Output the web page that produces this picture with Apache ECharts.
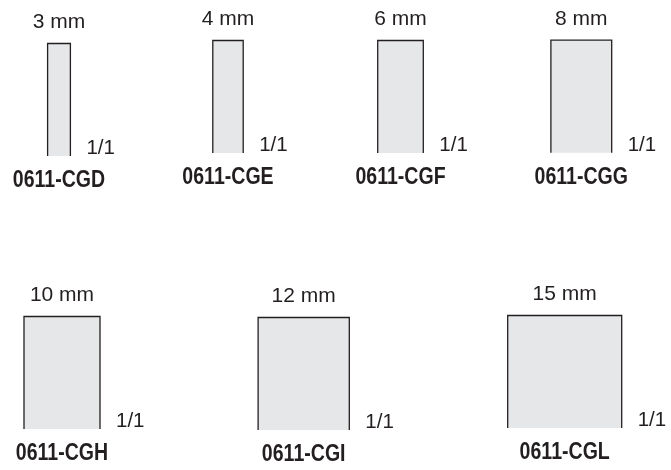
<!DOCTYPE html>
<html>
<head>
<meta charset="utf-8">
<script src="https://cdn.jsdelivr.net/npm/echarts@6/dist/echarts.min.js"></script>
<style>
html,body{margin:0;padding:0;background:#fff;}
#chart{width:671px;height:470px;}
</style>
</head>
<body>
<div id="chart"></div>
<script>
// ---- data ----
const codes = ['0611-CGD', '0611-CGE', '0611-CGF', '0611-CGG', '0611-CGH', '0611-CGI', '0611-CGL'];
const widthsMm = [3, 4, 6, 8, 10, 12, 15];
const sizeLabels = ['3 mm', '4 mm', '6 mm', '8 mm', '10 mm', '12 mm', '15 mm'];
const scaleLabels = ['1/1', '1/1', '1/1', '1/1', '1/1', '1/1', '1/1'];
const lengthMm = 14.8;

// ---- layout (pixel slot of each drawing: centre x, baseline y) ----
const PX_PER_MM = 7.6;
const HALF_RANGE = 7.5; // mm on each side of centre
const slots = [
  [59, 156], [228, 153], [400.5, 153], [581.3, 152.7],
  [62, 429], [303.7, 430], [564.7, 428]
];

const INK = '#231f20';
const FILL = '#e6e7e8';
const FONT = '"Liberation Sans", Arial, Helvetica, sans-serif';

const grids = [], xAxes = [], yAxes = [], series = [];
codes.forEach((code, i) => {
  const [cx, base] = slots[i];
  const gw = HALF_RANGE * 2 * PX_PER_MM;
  const gh = lengthMm * PX_PER_MM;
  grids.push({ left: cx - gw / 2, top: base - gh, width: gw, height: gh,
               containLabel: false, outerBoundsMode: 'none' });
  xAxes.push({ type: 'value', gridIndex: i, min: -HALF_RANGE, max: HALF_RANGE, show: false });
  yAxes.push({ type: 'value', gridIndex: i, min: 0, max: lengthMm, show: false });
  series.push({
    type: 'custom',
    name: code,
    xAxisIndex: i,
    yAxisIndex: i,
    silent: true,
    clip: false,
    data: [[widthsMm[i], lengthMm, i]],
    renderItem: function (params, api) {
      const w = api.value(0), h = api.value(1), idx = api.value(2);
      const bl = api.coord([-w / 2, 0]);
      const tr = api.coord([w / 2, h]);
      const midX = (bl[0] + tr[0]) / 2;
      return {
        type: 'group',
        children: [
          { type: 'rect', shape: { x: bl[0], y: tr[1], width: tr[0] - bl[0], height: bl[1] - tr[1] },
            style: { fill: FILL } },
          { type: 'polyline',
            shape: { points: [[bl[0], bl[1]], [bl[0], tr[1]], [tr[0], tr[1]], [tr[0], bl[1]]] },
            style: { stroke: INK, lineWidth: 1.3, fill: null } },
          { type: 'text', x: midX, y: tr[1] - 21.5,
            style: { text: sizeLabels[idx], x: 0, y: 0, align: 'center', verticalAlign: 'middle',
                     fill: INK, font: '21px ' + FONT } },
          { type: 'text', x: tr[0] + 16, y: bl[1] - 7.5,
            style: { text: scaleLabels[idx], x: 0, y: 0, align: 'left', verticalAlign: 'middle',
                     fill: INK, font: '20.5px ' + FONT } },
          { type: 'text', x: midX, y: bl[1] + 24.5, scaleX: 0.85,
            style: { text: codes[idx], x: 0, y: 0, align: 'center', verticalAlign: 'middle',
                     fill: INK, font: 'bold 23px ' + FONT } }
        ]
      };
    }
  });
});

const chart = echarts.init(document.getElementById('chart'), null, { renderer: 'canvas' });
chart.setOption({
  animation: false,
  backgroundColor: '#ffffff',
  grid: grids,
  xAxis: xAxes,
  yAxis: yAxes,
  series: series
});
</script>
</body>
</html>
